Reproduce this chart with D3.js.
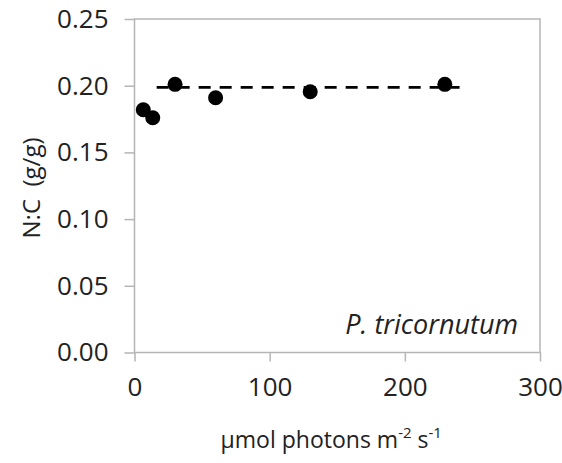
<!DOCTYPE html>
<html>
<head>
<meta charset="utf-8">
<script src="https://cdn.jsdelivr.net/npm/d3@7"></script>
<style>
  html, body { margin: 0; padding: 0; background: #fff; }
  svg { display: block; }
  text { font-family: "Open Sans", "Noto Sans", sans-serif; fill: #222; }
</style>
</head>
<body>
<div id="chart"></div>
<script>
const W = 562;
const H = 463;

// data
const light = [6.5, 13.5, 30, 60, 130, 229.6];
const ncRatio = [0.182, 0.176, 0.201, 0.191, 0.1955, 0.201];
const fitX = [16.4, 240.5];
const fitY = [0.1988, 0.1988];
const xTicks = [0, 100, 200, 300];
const yTicks = [0, 0.05, 0.10, 0.15, 0.20, 0.25];

const margin = { top: 19, right: 22, bottom: 110.5, left: 134.5 };
const iw = W - margin.left - margin.right;
const ih = H - margin.top - margin.bottom;

const svg = d3.select('#chart').append('svg')
  .attr('width', W)
  .attr('height', H);

const g = svg.append('g')
  .attr('transform', `translate(${margin.left},${margin.top})`);

const x = d3.scaleLinear().domain([0, 300]).range([0, iw]);
const y = d3.scaleLinear().domain([0, 0.25]).range([ih, 0]);

const axisColor = '#b5b5b5';

// frame
g.append('rect')
  .attr('width', iw)
  .attr('height', ih)
  .attr('fill', 'none')
  .attr('stroke', axisColor)
  .attr('stroke-width', 1.5);

const yAxis = g.append('g')
  .call(d3.axisLeft(y).tickValues(yTicks).tickFormat(d3.format('.2f')).tickSize(10).tickPadding(16));
yAxis.select('.domain').remove();
yAxis.selectAll('line').attr('stroke', axisColor).attr('stroke-width', 1.5);
yAxis.selectAll('text')
  .style('font-size', '26px')
  .attr('fill', '#222');

const xAxis = g.append('g')
  .attr('transform', `translate(0,${ih})`)
  .call(d3.axisBottom(x).tickValues(xTicks).tickSize(9).tickPadding(16));
xAxis.select('.domain').remove();
xAxis.selectAll('line').attr('stroke', axisColor).attr('stroke-width', 1.5);
xAxis.selectAll('text')
  .style('font-size', '26px')
  .attr('fill', '#222');

// dashed mean line
const fit = fitX.map((v, i) => [v, fitY[i]]);
g.append('path')
  .datum(fit)
  .attr('fill', 'none')
  .attr('stroke', '#000')
  .attr('stroke-width', 2.8)
  .attr('stroke-dasharray', '12,9')
  .attr('d', d3.line().x(d => x(d[0])).y(d => y(d[1])));

// points
g.selectAll('circle.pt')
  .data(light.map((v, i) => [v, ncRatio[i]]))
  .join('circle')
  .attr('class', 'pt')
  .attr('cx', d => x(d[0]))
  .attr('cy', d => y(d[1]))
  .attr('r', 7.5)
  .attr('fill', '#000');

// species label
g.append('text')
  .attr('x', iw - 22)
  .attr('y', ih - 19)
  .attr('text-anchor', 'end')
  .style('font-size', '27px')
  .style('font-style', 'italic')
  .text('P. tricornutum');

// axis titles
const xt = svg.append('text')
  .attr('x', margin.left + iw / 2 - 6)
  .attr('y', 448)
  .attr('text-anchor', 'middle')
  .style('font-size', '23px');
xt.append('tspan').text('\u00b5mol photons m');
xt.append('tspan').attr('dy', -10).style('font-size', '15px').text('-2');
xt.append('tspan').attr('dy', 10).text(' s');
xt.append('tspan').attr('dy', -10).style('font-size', '15px').text('-1');

svg.append('text')
  .attr('transform', 'translate(40,188) rotate(-90)')
  .attr('text-anchor', 'middle')
  .style('font-size', '24px')
  .text('N:C\u00a0\u00a0(g/g)');
</script>
</body>
</html>
